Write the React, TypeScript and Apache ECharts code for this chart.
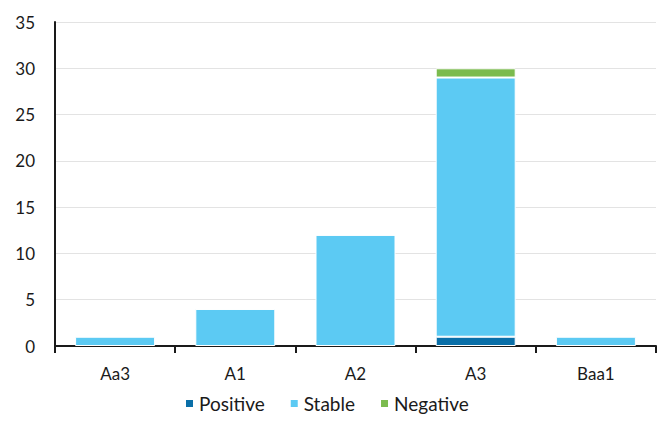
import React, { useEffect, useRef } from "react";
import * as echarts from "echarts";

const categories = ["Aa3", "A1", "A2", "A3", "Baa1"];
const positive = [0, 0, 0, 1, 0];
const stable = [1, 4, 12, 28, 1];
const negative = [0, 0, 0, 1, 0];
const yTicks = { min: 0, max: 35, interval: 5 };

export default function App() {
  const ref = useRef<HTMLDivElement>(null);
  useEffect(() => {
    const chart = echarts.init(ref.current!, null, { renderer: "svg" });
    const font = "Lato, 'Open Sans', sans-serif";
    const mk = (name: string, data: number[], color: string) => ({
      name,
      type: "bar",
      stack: "total",
      data: data.map((v) => (v === 0 ? null : v)),
      barWidth: 80,
      itemStyle: { color, borderColor: "#ffffff", borderWidth: 1 },
    });
    chart.setOption({
      animation: false,
      textStyle: { fontFamily: font },
      grid: { left: 55, right: 4, top: 22, bottom: 76 },
      xAxis: {
        type: "category",
        data: categories,
        axisLine: { lineStyle: { color: "#1a1a1a", width: 2 } },
        axisTick: { show: true, length: 7, lineStyle: { color: "#1a1a1a", width: 2 } },
        axisLabel: { color: "#1a1a1a", fontSize: 17, margin: 19, fontFamily: font },
      },
      yAxis: {
        type: "value",
        min: yTicks.min,
        max: yTicks.max,
        interval: yTicks.interval,
        axisLine: { show: true, lineStyle: { color: "#1a1a1a", width: 2 } },
        axisTick: { show: false },
        splitLine: { lineStyle: { color: "#e3e3e3", width: 1 } },
        axisLabel: { color: "#1a1a1a", fontSize: 17, margin: 20, fontFamily: font },
      },
      legend: {
        bottom: 4,
        left: 179,
        itemWidth: 9,
        itemHeight: 9,
        itemGap: 24,
        icon: "rect",
        textStyle: { color: "#1a1a1a", fontSize: 19, fontFamily: font },
        data: ["Positive", "Stable", "Negative"],
      },
      series: [
        mk("Positive", positive, "#0a6fa8"),
        mk("Stable", stable, "#5ccaf3"),
        mk("Negative", negative, "#7bbb4e"),
      ],
    });
    return () => chart.dispose();
  }, []);
  return (
    <div
      ref={ref}
      style={{ position: "fixed", left: 0, top: 0, width: 660, height: 422, background: "#fff" }}
    />
  );
}
